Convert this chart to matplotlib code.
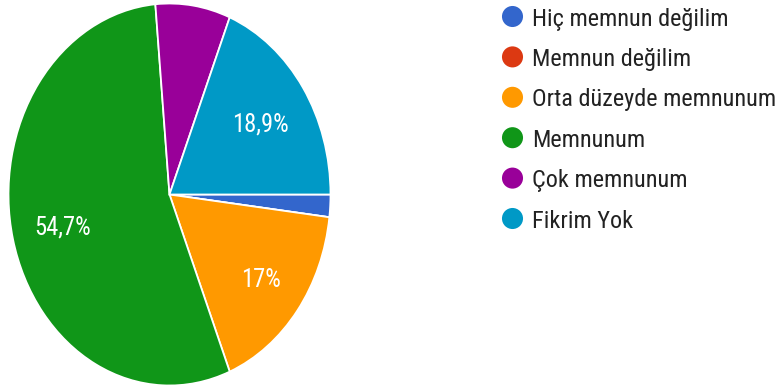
import matplotlib
matplotlib.use("Agg")
import matplotlib.pyplot as plt
from matplotlib import font_manager

# Survey answers and their share of responses (%)
categories = ["Hiç memnun değilim", "Memnun değilim", "Orta düzeyde memnunum",
              "Memnunum", "Çok memnunum", "Fikrim Yok"]
shares = [1.9, 0.0, 17.0, 54.7, 7.5, 18.9]
colors = ["#3366CC", "#DC3912", "#FF9900", "#109618", "#990099", "#0099C6"]

# Prefer a condensed sans face for the tall, narrow lettering
names = {f.name for f in font_manager.fontManager.ttflist}
face = next((n for n in ["Roboto Condensed", "Liberation Sans Narrow", "Arimo Narrow",
                         "Archivo Narrow", "PT Sans Narrow", "Liberation Sans"]
             if n in names), "DejaVu Sans")
fam = [face, "DejaVu Sans"]

W, H = 783, 389
fig = plt.figure(figsize=(W / 100, H / 100), dpi=100)
renderer = fig.canvas.get_renderer()


def size_for(text, width_px, base=15.0):
    """Font size at which `text` spans `width_px` pixels."""
    t = fig.text(0, 0, text, fontsize=base, family=fam)
    w = t.get_window_extent(renderer).width
    t.remove()
    return base * width_px / w


pct_size = size_for("18,9%", 57)
leg_size = size_for("Orta düzeyde memnunum", 245)

# Pie axes (stretched vertically)
cx, cy, rx, ry = 169.5, 194.5, 161, 191
ax = fig.add_axes([(cx - rx) / W, (H - cy - ry) / H, 2 * rx / W, 2 * ry / H])


def fmt(p):
    if p < 10:
        return ""
    s = f"{p:.1f}".rstrip("0").rstrip(".")
    return s.replace(".", ",") + "%"


wedges, texts, autotexts = ax.pie(
    shares, colors=colors, startangle=0, counterclock=False,
    autopct=fmt, pctdistance=0.68, radius=1,
    wedgeprops=dict(edgecolor="white", linewidth=1.3),
    textprops=dict(color="white", fontsize=pct_size, family=fam,
                   va="center_baseline"),
)
# the narrower orange slice sets its label a little further out
x, y = autotexts[2].get_position()
autotexts[2].set_position((x * 0.715 / 0.68, y * 0.715 / 0.68))
ax.set_aspect("auto")
ax.set_xlim(-1, 1)
ax.set_ylim(-1, 1)
ax.axis("off")

# Legend drawn in pixel coordinates
lax = fig.add_axes([0, 0, 1, 1])
lax.set_xlim(0, W)
lax.set_ylim(H, 0)
lax.axis("off")
row0, step = 16.5, 40.4
for i, (lab, col) in enumerate(zip(categories, colors)):
    y = row0 + i * step
    lax.scatter([512.5], [y], s=230, color=col, edgecolors="none")
    lax.text(532, y, lab, fontsize=leg_size, family=fam, color="#222222",
             va="center_baseline", ha="left")

fig.savefig("out.png", dpi=100)
